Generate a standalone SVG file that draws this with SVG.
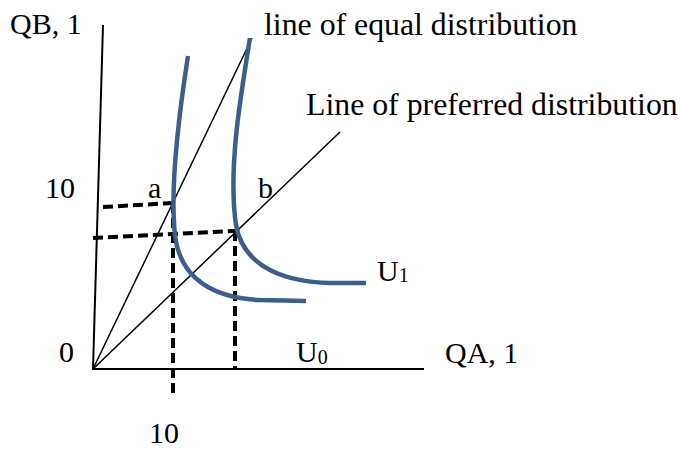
<svg xmlns="http://www.w3.org/2000/svg" width="681" height="449" viewBox="0 0 681 449">
<style>
text{font-family:"Liberation Serif","Times New Roman",serif;fill:#000}
.lbl{font-size:30px}
.big{font-size:31.8px}
.sub{font-size:20px}
.ax{stroke:#000;stroke-width:2;fill:none}
.thin{stroke:#000;stroke-width:1.5;fill:none}
.dash{stroke:#000;stroke-width:4;fill:none;stroke-dasharray:10 5}
.curve{stroke:#3B5E8C;stroke-width:4.5;fill:none;stroke-linecap:butt}
</style>
<rect width="681" height="449" fill="#fff"/>
<g id="connectors">
<line class="ax" x1="103" y1="25" x2="93" y2="369"/>
<line class="ax" x1="92" y1="369" x2="424" y2="369"/>
<line class="thin" x1="93" y1="369" x2="252" y2="38"/>
<line class="thin" x1="93" y1="369" x2="340" y2="132"/>
<line class="dash" x1="103" y1="207" x2="173" y2="203"/>
<line class="dash" x1="173" y1="203" x2="173" y2="395"/>
<line class="dash" x1="93" y1="238" x2="235" y2="231"/>
<line class="dash" x1="235" y1="231" x2="235" y2="369"/>
</g>
<g id="U0">
<path class="curve" d="M188,56 C178,120 170,190 175,235 C180,280 215,298 260,300 L306,301"/>
<text class="lbl" x="296" y="362">U<tspan class="sub" dy="2">0</tspan></text>
</g>
<g id="U1">
<path class="curve" d="M250,38 C240,100 228,170 236,225 C244,270 290,282 330,283 L366,283"/>
<text class="lbl" x="377" y="281">U<tspan class="sub" dy="1">1</tspan></text>
</g>
<g id="labels">
<text class="lbl" x="10" y="34">QB, 1</text>
<text class="big" x="264" y="35">line of equal distribution</text>
<text class="big" x="306" y="115">Line of preferred distribution</text>
<text class="lbl" x="45" y="198">10</text>
<text class="lbl" x="148" y="198">a</text>
<text class="lbl" x="258" y="198">b</text>
<text class="lbl" x="59" y="362">0</text>
<text class="lbl" x="445" y="363">QA, 1</text>
<text class="lbl" x="149" y="443">10</text>
</g>
</svg>
